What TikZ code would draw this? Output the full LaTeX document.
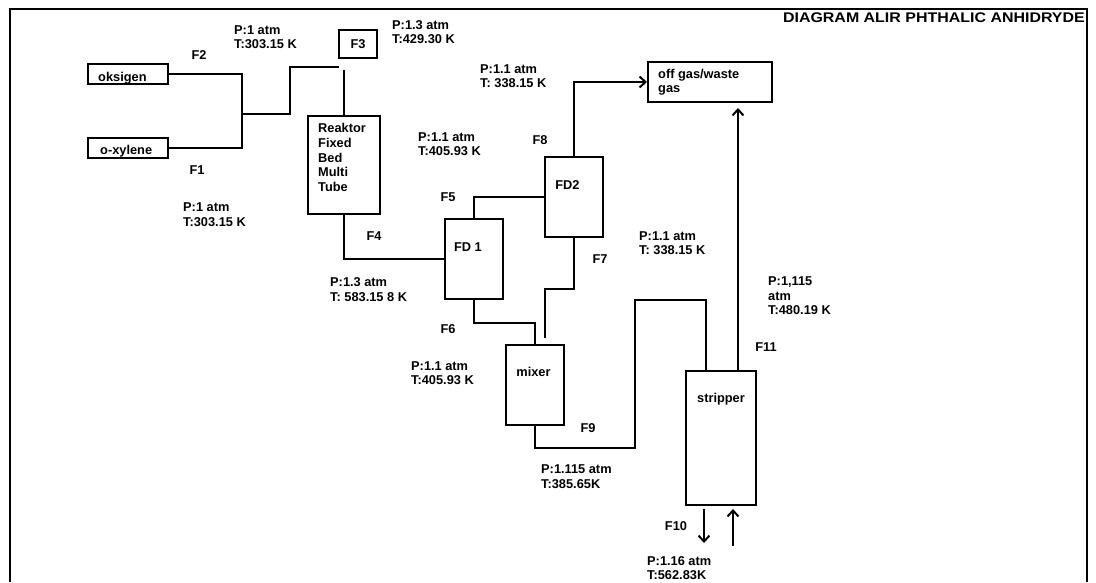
\documentclass[tikz,border=0pt]{standalone}
\usepackage{fontspec}
\setmainfont{Liberation Sans}
\usepackage{graphicx}
\usetikzlibrary{arrows.meta,calc}
\newcommand\lblfont{\fontsize{12.8}{14.5}\selectfont\bfseries}
\begin{document}
\begin{tikzpicture}[x=1pt,y=-1pt,
  box/.style={draw,line width=2pt,inner sep=0pt,font=\lblfont},
  lbl/.style={font=\lblfont,align=left,anchor=west,inner sep=0pt},
  flab/.style={font=\lblfont,inner sep=0pt},
  pipe/.style={line width=2pt},
  arr/.style={pipe,-{Straight Barb[length=6pt,width=11pt]}}]
\useasboundingbox (0,0) rectangle (1096,582);
% frame
\draw[line width=2.4pt] (10,582) -- (10,9) -- (1087,9) -- (1087,582);
\node[anchor=east,inner sep=0pt,font=\fontsize{14}{16}\selectfont\bfseries] (title) at (1085,18) {\scalebox{1.14}[1]{DIAGRAM ALIR PHTHALIC ANHIDRYDE}};

% boxes
\node[box,minimum width=80pt,minimum height=20pt] (oks) at (128,74) {};
\node[lbl] (toks) at (98,78) {oksigen};
\node[box,minimum width=80pt,minimum height=20pt] (oxy) at (128,148) {};
\node[lbl] (toxy) at (100,151) {o-xylene};
\node[box,minimum width=38pt,minimum height=28pt] (f3) at (358,44) {F3};
\node[box,minimum width=72pt,minimum height=98pt] (reac) at (344,165) {};
\node[lbl,font=\fontsize{12.8}{14.75}\selectfont\bfseries] (treac) at (318,157.5) {Reaktor\\Fixed\\Bed\\Multi\\Tube};
\node[box,minimum width=58pt,minimum height=80pt] (fd1) at (474,259) {};
\node[flab] (tfd1) at (468,247) {FD 1};
\node[box,minimum width=58pt,minimum height=80pt] (fd2) at (574,197) {};
\node[flab] (tfd2) at (567.5,185) {FD2};
\node[box,minimum width=124pt,minimum height=40pt] (off) at (710,82) {};
\node[lbl] (toff) at (658,82) {off gas/waste\\gas};
\node[box,minimum width=58pt,minimum height=80pt] (mixer) at (535,385) {};
\node[flab] (tmixer) at (533.5,372) {mixer};
\node[box,minimum width=70pt,minimum height=134pt] (stri) at (721,438) {};
\node[flab] (tstri) at (721,399) {stripper};

% coordinates
\coordinate (j) at (242,114);
\coordinate (k) at (290,67);
\coordinate (f3in) at (339,67);
\coordinate (r0) at (344,70);
\coordinate (f7e) at (545,338);
\coordinate (q1) at (635,448);
\coordinate (q2) at (706,300);
\coordinate (s11) at ($(stri.north west)+(53,0)$);
\coordinate (d1) at ($(stri.south west)+(19,3)$);
\coordinate (d2) at ($(stri.south west)+(19,37)$);
\coordinate (u1) at ($(stri.south west)+(48,40)$);
\coordinate (u2) at ($(stri.south west)+(48,3)$);

% connectors
\draw[pipe] (oks.east) -- (oks.east -| j);
\draw[pipe] (oxy.east) -- (oxy.east -| j);
\draw[pipe] ($(j |- oks.east)+(0,-1)$) -- ($(j |- oxy.east)+(0,1)$);
\draw[pipe] (j) -| (k) -- (f3in);
\draw[pipe] (r0) -- (reac.north);
\draw[pipe] (reac.south) |- (fd1.west);
\draw[pipe] (fd1.north) |- (fd2.west);
\draw[arr] (fd2.north) |- (off.west);
\draw[pipe] (fd1.south) -- ++(0,23) -| (mixer.north);
\draw[pipe] (fd2.south) -- ++(0,51) -| (f7e);
\draw[pipe] (mixer.south) |- (q1) |- (q2) -- (q2 |- stri.north);
\draw[arr,shorten >=5pt] (s11) -- (s11 |- off.south);
\draw[arr] (d1) -- (d2);
\draw[arr] (u1) -- (u2);

% labels
\node[lbl] (p1) at (234,37) {P:1 atm\\T:303.15 K};
\node[flab] (lf2) at (199,55) {F2};
\node[flab] (lf1) at (197,170) {F1};
\node[lbl] (p2) at (183,214.5) {P:1 atm\\T:303.15 K};
\node[lbl] (p3) at (392,32) {P:1.3 atm\\T:429.30 K};
\node[lbl] (p4) at (480,76) {P:1.1 atm\\T: 338.15 K};
\node[lbl] (p5) at (418,144) {P:1.1 atm\\T:405.93 K};
\node[flab] (lf8) at (540,140) {F8};
\node[flab] (lf5) at (448,197) {F5};
\node[flab] (lf4) at (374,236) {F4};
\node[lbl] (p6) at (330,289.5) {P:1.3 atm\\T: 583.15 8 K};
\node[flab] (lf7) at (600,259) {F7};
\node[flab] (lf6) at (448,329) {F6};
\node[lbl] (p7) at (411,373) {P:1.1 atm\\T:405.93 K};
\node[flab] (lf9) at (588,428) {F9};
\node[lbl] (p8) at (541,476.5) {P:1.115 atm\\T:385.65K};
\node[lbl] (p9) at (639,243) {P:1.1 atm\\T: 338.15 K};
\node[lbl] (p10) at (768,296) {P:1,115\\atm\\T:480.19 K};
\node[flab] (lf11) at (766,347) {F11};
\node[flab] (lf10) at (676,526) {F10};
\node[lbl] (p11) at (647,568) {P:1.16 atm\\T:562.83K};
\end{tikzpicture}
\end{document}
